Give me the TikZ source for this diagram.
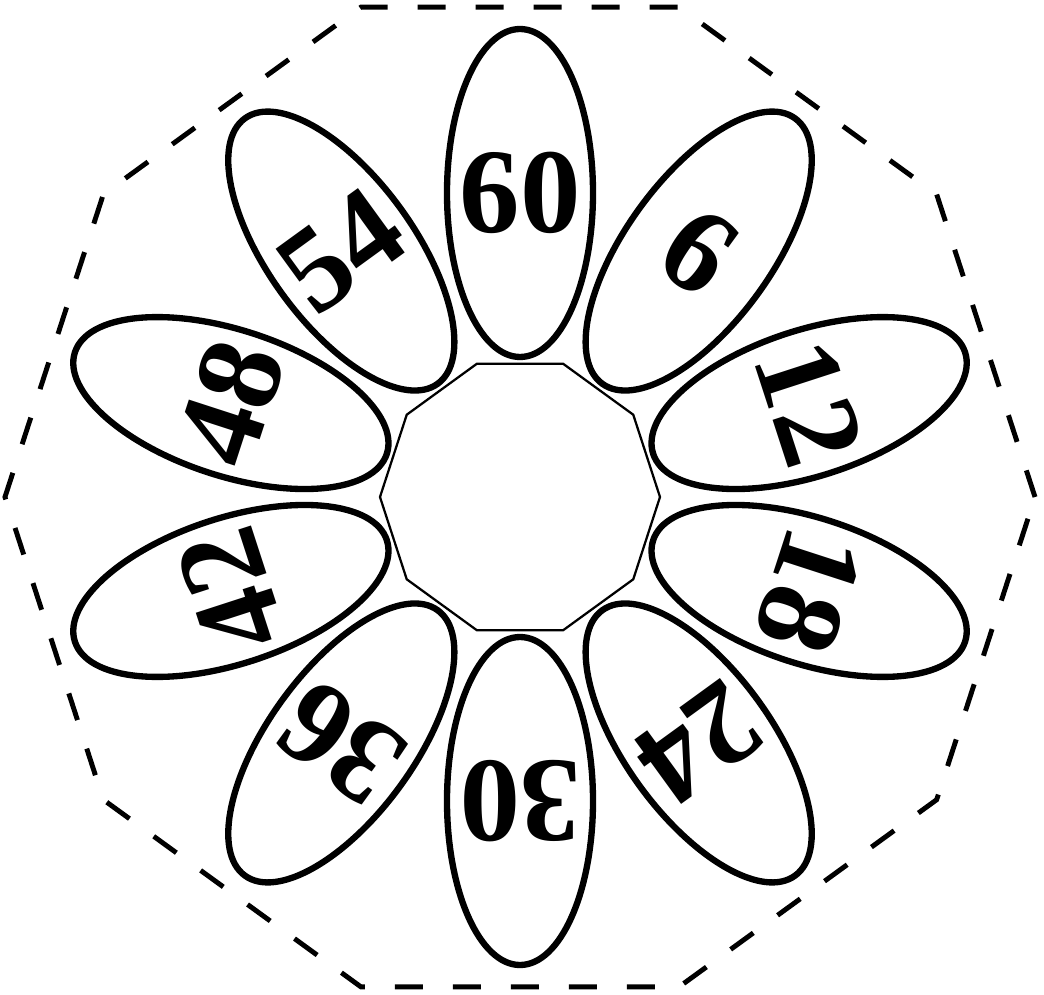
\documentclass[tikz,border=0pt]{standalone}
\usepackage{fontspec}
\setmainfont{Liberation Serif}
\usetikzlibrary{shapes.geometric}

\begin{document}
\begin{tikzpicture}[
    petal/.style={draw, ellipse, line width=4.5pt, minimum width=3.65cm, minimum height=8.2cm, inner sep=0pt},
    num/.style={inner sep=0pt, font=\bfseries\fontsize{86}{86}\selectfont}]
    \useasboundingbox (-13.0,-12.425) rectangle (13.1,12.425);
    % outer dashed frame
    \draw[line width=3.5pt, dash pattern=on 0.7cm off 0.75cm]
        (0:12.875) -- (36:12.875) -- (72:12.875) -- (108:12.875) -- (144:12.875)
        -- (180:12.875) -- (216:12.875) -- (252:12.875) -- (288:12.875) -- (324:12.875) -- cycle;
    % petals
    \node[petal, rotate=0] (p60) at (90:7.6) {};
    \node[num, rotate=0] (t60) at (p60) {60};
    \node[petal, rotate=-36] (p6) at (54:7.6) {};
    \node[num, rotate=-36] (t6) at (p6) {6};
    \node[petal, rotate=-72] (p12) at (18:7.6) {};
    \node[num, rotate=-72] (t12) at (p12) {12};
    \node[petal, rotate=-108] (p18) at (-18:7.6) {};
    \node[num, rotate=-108] (t18) at (p18) {18};
    \node[petal, rotate=-144] (p24) at (-54:7.6) {};
    \node[num, rotate=-144] (t24) at (p24) {24};
    \node[petal, rotate=180] (p30) at (-90:7.6) {};
    \node[num, rotate=180] (t30) at (p30) {30};
    \node[petal, rotate=144] (p36) at (-126:7.6) {};
    \node[num, rotate=144] (t36) at (p36) {36};
    \node[petal, rotate=108] (p42) at (-162:7.6) {};
    \node[num, rotate=108] (t42) at (p42) {42};
    \node[petal, rotate=72] (p48) at (162:7.6) {};
    \node[num, rotate=72] (t48) at (p48) {48};
    \node[petal, rotate=36] (p54) at (126:7.6) {};
    \node[num, rotate=36] (t54) at (p54) {54};
    % centre
    \draw[line width=1.6pt, fill=white]
        (0:3.5) -- (36:3.5) -- (72:3.5) -- (108:3.5) -- (144:3.5)
        -- (180:3.5) -- (216:3.5) -- (252:3.5) -- (288:3.5) -- (324:3.5) -- cycle;
\end{tikzpicture}
\end{document}
